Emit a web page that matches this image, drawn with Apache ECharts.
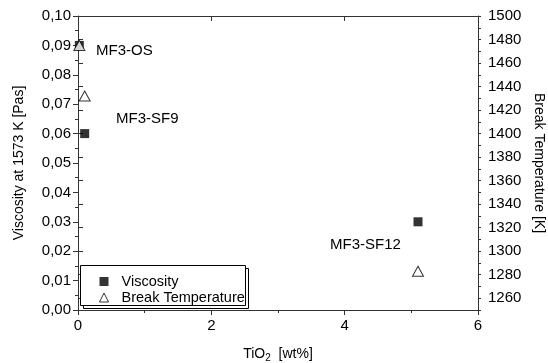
<!DOCTYPE html>
<html>
<head>
<meta charset="utf-8">
<script src="https://cdn.jsdelivr.net/npm/echarts@6/dist/echarts.min.js"></script>
<style>html,body{margin:0;padding:0;background:#fff}#c{width:548px;height:363px}</style>
</head>
<body>
<div id="c"></div>
<script>
const samples = ['MF3-OS', 'MF3-SF9', 'MF3-SF12'];
const tio2 = [0.02, 0.1, 5.1];
const viscosity = [0.09, 0.06, 0.03];
const breakTemp = [1475, 1432, 1283];
const xTicks = [0, 2, 4, 6];
const leftTicks = [0, 0.01, 0.02, 0.03, 0.04, 0.05, 0.06, 0.07, 0.08, 0.09, 0.10];
const rightTicks = [1260, 1280, 1300, 1320, 1340, 1360, 1380, 1400, 1420, 1440, 1460, 1480, 1500];

const FONT = '"Liberation Sans", Arial, sans-serif';
const AX = '#333';
const chart = echarts.init(document.getElementById('c'), null, {renderer: 'canvas'});

const viscData = tio2.map((x, i) => [x, viscosity[i]]);
const tempData = tio2.map((x, i) => [x, breakTemp[i]]);

chart.setOption({
  animation: false,
  backgroundColor: '#fff',
  textStyle: {fontFamily: FONT},
  grid: {left: 78, right: 70, top: 16, bottom: 53, containLabel: false, outerBoundsMode: 'none'},
  xAxis: [{
    type: 'value', position: 'bottom', min: 0, max: 6, interval: 2,
    axisLine: {show: true, onZero: false, lineStyle: {color: AX, width: 1}},
    axisTick: {show: true, length: 5, lineStyle: {color: AX}},
    minorTick: {show: true, splitNumber: 2, length: 3, lineStyle: {color: AX}},
    splitLine: {show: false},
    axisLabel: {color: '#000', fontSize: 15, fontFamily: FONT, margin: 8},
    name: 'TiO{sub|2}  [wt%]', nameLocation: 'middle', nameGap: 35,
    nameTextStyle: {color: '#000', fontSize: 14, fontFamily: FONT,
      rich: {sub: {fontSize: 10, fontFamily: FONT, color: '#000', verticalAlign: 'bottom', padding: [8, 0, 0, 0]}}}
  }, {
    type: 'value', position: 'top', min: 0, max: 6, interval: 2,
    axisLine: {show: true, onZero: false, lineStyle: {color: AX, width: 1}},
    axisTick: {show: true, inside: true, length: 5, lineStyle: {color: AX}},
    minorTick: {show: false},
    splitLine: {show: false},
    axisLabel: {show: false}
  }],
  yAxis: [{
    type: 'value', position: 'left', min: 0, max: 0.1, interval: 0.01,
    axisLine: {show: true, onZero: false, lineStyle: {color: AX, width: 1}},
    axisTick: {show: true, length: 5, lineStyle: {color: AX}},
    minorTick: {show: true, splitNumber: 2, length: 3, lineStyle: {color: AX}},
    splitLine: {show: false},
    axisLabel: {color: '#000', fontSize: 15, fontFamily: FONT, margin: 7,
      formatter: v => v.toFixed(2).replace('.', ',')},
    name: 'Viscosity at 1573 K [Pas]', nameLocation: 'middle', nameGap: 52, nameRotate: 90,
    nameTextStyle: {color: '#000', fontSize: 14, fontFamily: FONT}
  }, {
    type: 'value', position: 'right', min: 1250, max: 1500, interval: 10,
    axisLine: {show: true, onZero: false, lineStyle: {color: AX, width: 1}},
    axisTick: {show: true, length: 3, lineStyle: {color: AX}},
    splitLine: {show: false},
    axisLabel: {color: '#000', fontSize: 15, fontFamily: FONT, margin: 10,
      formatter: v => (rightTicks.indexOf(v) >= 0 ? String(v) : '')},
    name: 'Break Temperature [K]', nameLocation: 'middle', nameGap: 49, nameRotate: -90,
    nameTextStyle: {color: '#000', fontSize: 14, fontFamily: FONT}
  }, {
    type: 'value', position: 'right', min: 1250, max: 1500,
    axisLine: {show: false},
    axisTick: {show: true, length: 5, customValues: rightTicks, lineStyle: {color: AX}},
    splitLine: {show: false},
    axisLabel: {show: false}
  }],
  legend: {
    orient: 'vertical', left: 94, top: 269, itemGap: 1, itemWidth: 9, itemHeight: 9,
    textStyle: {color: '#000', fontSize: 14.5, fontFamily: FONT, padding: [0, 0, 0, 8]},
    z: 20,
    data: [
      {name: 'Viscosity', icon: 'rect', itemStyle: {color: '#000', borderWidth: 0}},
      {name: 'Break Temperature', icon: 'triangle', itemStyle: {color: '#fff', borderColor: '#000', borderWidth: 1}}
    ]
  },
  graphic: [
    {type: 'rect', z: 10, shape: {x: 83.5, y: 268.5, width: 165, height: 40},
      style: {fill: '#fff', stroke: '#000', lineWidth: 1}},
    {type: 'rect', z: 11, shape: {x: 80.5, y: 265.5, width: 165, height: 40},
      style: {fill: '#fff', stroke: '#000', lineWidth: 1}},
    {type: 'text', z: 5, left: 96, top: 43, style: {text: samples[0], fontSize: 15, fontFamily: FONT, fill: '#000'}},
    {type: 'text', z: 5, left: 116, top: 111, style: {text: samples[1], fontSize: 15, fontFamily: FONT, fill: '#000'}},
    {type: 'text', z: 5, left: 330, top: 237, style: {text: samples[2], fontSize: 15, fontFamily: FONT, fill: '#000'}}
  ],
  series: [{
    name: 'Viscosity', type: 'scatter', xAxisIndex: 0, yAxisIndex: 0,
    symbol: 'rect', symbolSize: 9, clip: false,
    itemStyle: {color: '#000', borderWidth: 0},
    data: viscData
  }, {
    name: 'Break Temperature', type: 'scatter', xAxisIndex: 0, yAxisIndex: 1,
    symbol: 'triangle', symbolSize: [11, 10], clip: false,
    itemStyle: {color: '#fff', borderColor: '#000', borderWidth: 1},
    data: tempData
  }]
});
</script>
</body>
</html>
